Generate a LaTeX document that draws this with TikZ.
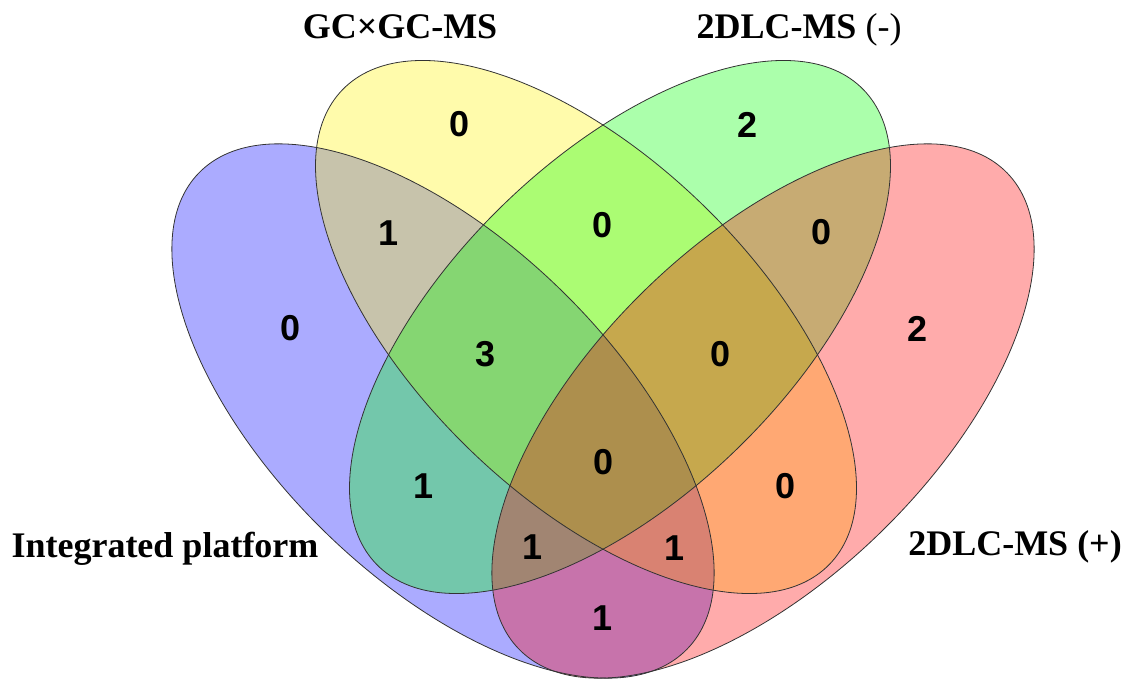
\documentclass[tikz,border=0pt]{standalone}
\usepackage{fontspec}
\setmainfont{Liberation Serif}
\newfontfamily\numfont{Liberation Sans}
\begin{document}
\begin{tikzpicture}[x=1pt,y=-1pt,
  setfill/.style={fill=#1, fill opacity=0.33},
  setline/.style={draw=black!80, line width=0.8pt},
  num/.style={font=\numfont\bfseries\fontsize{36}{36}\selectfont, inner sep=0pt, anchor=center},
  ttl/.style={font=\bfseries\fontsize{36}{36}\selectfont, inner sep=0pt, anchor=base}]
\useasboundingbox (0,0) rectangle (1140,685);
% fills
\path[setfill=blue,   shift={(443,411)}, rotate=-44.3] (0,0) ellipse [x radius=341, y radius=169];
\path[setfill=yellow, shift={(586,327)}, rotate=-44.3] (0,0) ellipse [x radius=340, y radius=169];
\path[setfill=green,  shift={(620,327)}, rotate=44.3]  (0,0) ellipse [x radius=340, y radius=169];
\path[setfill=red,    shift={(763,411)}, rotate=44.3]  (0,0) ellipse [x radius=341, y radius=169];
% outlines
\path[setline, shift={(443,411)}, rotate=-44.3] (0,0) ellipse [x radius=341, y radius=169];
\path[setline, shift={(586,327)}, rotate=-44.3] (0,0) ellipse [x radius=340, y radius=169];
\path[setline, shift={(620,327)}, rotate=44.3]  (0,0) ellipse [x radius=340, y radius=169];
\path[setline, shift={(763,411)}, rotate=44.3]  (0,0) ellipse [x radius=341, y radius=169];
% titles
\node[ttl] (tY) at (400,38) {GC×GC-MS};
\node[ttl] (tG) at (799,38) {2DLC-MS \mdseries(-)};
\node[ttl] (tB) at (165,557) {Integrated platform};
\node[ttl] (tR) at (1015,555) {2DLC-MS (+)};
% counts
\node[num] (nY)    at (460,124) {0};
\node[num] (nG)    at (748,125) {2};
\node[num] (nB)    at (291,328) {0};
\node[num] (nBY)   at (389,233) {1};
\node[num] (nYG)   at (603,225) {0};
\node[num] (nGR)   at (821,232) {0};
\node[num] (nR)    at (917,329) {2};
\node[num] (nBYG)  at (486,354) {3};
\node[num] (nYGR)  at (721,354) {0};
\node[num] (nAll)  at (604,462) {0};
\node[num] (nBG)   at (424,486) {1};
\node[num] (nYR)   at (785,486) {0};
\node[num] (nBGR)  at (533,547) {1};
\node[num] (nBYR)  at (675,548) {1};
\node[num] (nBR)   at (603,618) {1};
\end{tikzpicture}
\end{document}
